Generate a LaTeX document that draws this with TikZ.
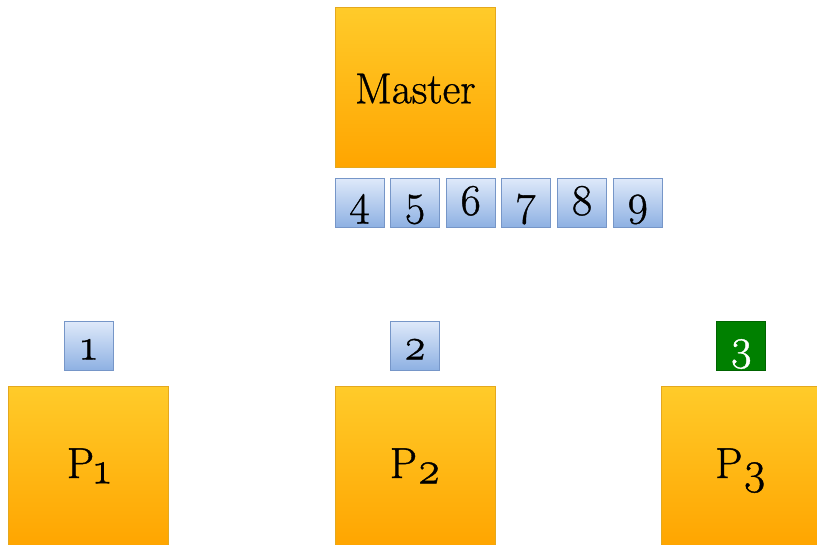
\documentclass[tikz,border=0pt]{standalone}
\usepackage{fontspec}
\setmainfont{Latin Modern Roman}[Numbers=OldStyle, RawFeature={embolden=0.9}]
\definecolor{orTop}{RGB}{255,203,42}
\definecolor{orBot}{RGB}{255,165,0}
\definecolor{orLine}{RGB}{228,168,30}
\definecolor{blTop}{RGB}{222,233,250}
\definecolor{blBot}{RGB}{141,176,226}
\definecolor{blLine}{RGB}{118,150,200}
\definecolor{grFill}{RGB}{0,128,0}
\definecolor{grLine}{RGB}{0,100,0}
\tikzset{
  orbox/.style={draw=orLine, line width=0.75pt, top color=orTop, bottom color=orBot,
    minimum width=120pt, minimum height=120pt, inner sep=0pt,
    font=\fontsize{32.5}{34}\selectfont, text depth=0pt},
  blbox/.style={draw=blLine, line width=0.75pt, top color=blTop, bottom color=blBot,
    minimum width=36.75pt, minimum height=36.75pt, inner sep=0pt,
    font=\fontsize{33}{36}\selectfont, text depth=0pt},
  grbox/.style={draw=grLine, line width=0.75pt, fill=grFill, text=white,
    minimum width=36.75pt, minimum height=36.75pt, inner sep=0pt,
    font=\fontsize{33}{36}\selectfont, text depth=0pt},
}
\newcommand{\osn}[1]{#1}
\newcommand{\psub}[1]{P\raisebox{-4pt}{\fontsize{34}{36}\selectfont #1}}
\begin{document}
\begin{tikzpicture}[x=0.75pt,y=-0.75pt]
\useasboundingbox (0,0) rectangle (817,544);
\node[orbox, text height=23.7pt] (master) at (415.3,87.5) {Master};
\node[blbox, text height=18pt] (b4) at (359.5,203) {\osn{4}};
\node[blbox, text height=18pt] (b5) at (415,203) {\osn{5}};
\node[blbox, text height=18pt] (b6) at (470.7,203) {\osn{6}};
\node[blbox, text height=18pt] (b7) at (526.3,203) {\osn{7}};
\node[blbox, text height=18pt] (b8) at (582,203) {\osn{8}};
\node[blbox, text height=18pt] (b9) at (637.7,203) {\osn{9}};
\node[blbox, text height=20pt] (b1) at (88.8,346.2) {\osn{1}};
\node[blbox, text height=20pt] (b2) at (415,346) {\osn{2}};
\node[grbox, text height=20pt] (b3) at (741.3,346.3) {\osn{3}};
\node[orbox, text height=18pt] (p1) at (88.8,466) {\psub{1}};
\node[orbox, text height=18pt] (p2) at (415.3,466) {\psub{2}};
\node[orbox, text height=18pt] (p3) at (741,466) {\psub{3}};
\end{tikzpicture}
\end{document}
